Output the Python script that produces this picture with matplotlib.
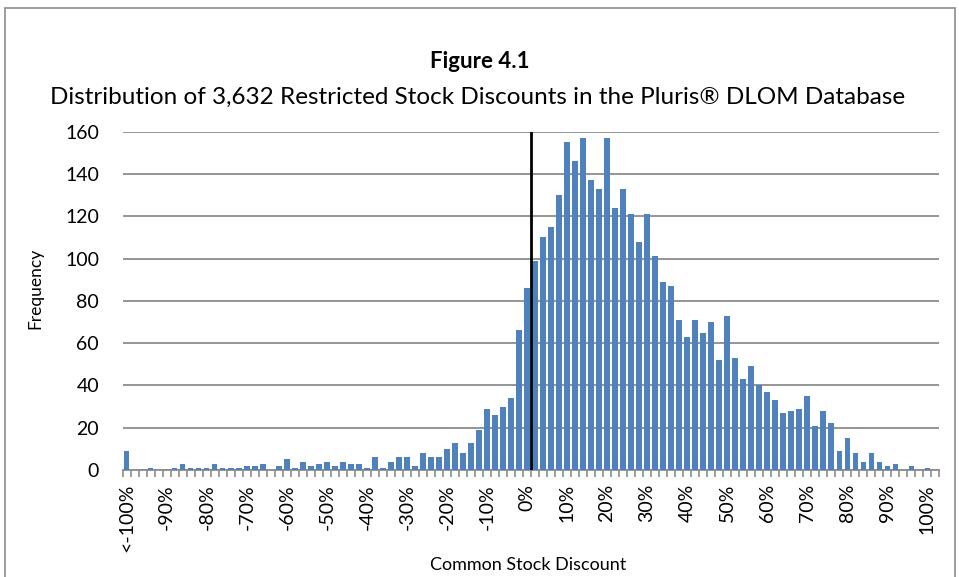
import matplotlib
matplotlib.use("Agg")
import matplotlib.pyplot as plt
from matplotlib.patches import Rectangle

plt.rcParams['font.family'] = ['Lato', 'DejaVu Sans']

# discount bins: "<-100%", -98% ... 100%, then an empty last bin
bin_pcts = list(range(-100, 102, 2)) + [102]
tick_labels = ["<-100%" if p == -100 else f"{p}%" for p in bin_pcts]

counts = [
    9, 0, 0, 1, 0, 0, 1, 3, 1, 1,
    1, 3, 1, 1, 1, 2, 2, 3, 0, 2,
    5, 1, 4, 2, 3, 4, 2, 4, 3, 3,
    1, 6, 1, 4, 6, 6, 2, 8, 6, 6,
    10, 13, 8, 13, 19, 29, 26, 30, 34, 66,
    86, 99, 110, 115, 130, 155, 146, 157, 137, 133,
    157, 124, 133, 121, 108, 121, 101, 89, 87, 71,
    63, 71, 65, 70, 52, 73, 53, 43, 49, 40,
    37, 33, 27, 28, 29, 35, 21, 28, 22, 9,
    15, 8, 4, 8, 4, 2, 3, 0, 2, 0,
    1, 0,
]
zero_line_pos = 50.5   # boundary right of the 0% bin

fig = plt.figure(figsize=(9.59, 5.77), dpi=100)
ax = fig.add_axes([122.7 / 959, 1 - 470 / 577, (939.3 - 122.7) / 959, (470 - 131.7) / 577])

x = list(range(len(counts)))
ax.bar(x, counts, width=0.68, color="#4F81BD", zorder=3)
ax.plot([zero_line_pos, zero_line_pos], [0, 160], color="black", lw=2, zorder=4)

ax.set_xlim(-0.5, len(counts) - 0.5)
ax.set_ylim(0, 160)
ax.set_yticks(range(0, 161, 20))
ax.yaxis.grid(True, color="#8C8C8C", lw=1.3, zorder=0)
ax.tick_params(axis="y", length=0, pad=17, labelsize=14)

major = list(range(0, 101, 5))
ax.set_xticks(major)
ax.set_xticklabels([tick_labels[i] for i in major], rotation=90, va="top", ha="center")
ax.set_xticks([i - 0.5 for i in range(len(counts) + 1)], minor=True)
ax.tick_params(axis="x", which="major", length=0, pad=10, labelsize=14)
ax.tick_params(axis="x", which="minor", length=5, width=1.2, color="#8C8C8C", direction="out")

for s in ["top", "right", "left"]:
    ax.spines[s].set_visible(False)
ax.spines["bottom"].set_color("#8C8C8C")
ax.spines["bottom"].set_linewidth(1.3)

fig.text(479.5 / 959, 1 - 62 / 577, "Figure 4.1", ha="center", va="center",
         fontsize=16, fontweight="bold")
fig.text(477.5 / 959, 1 - 97 / 577,
         "Distribution of 3,632 Restricted Stock Discounts in the Pluris\u00ae DLOM Database",
         ha="center", va="center", fontsize=17.5)
fig.text(35 / 959, 1 - 288 / 577, "Frequency", rotation=90, ha="center", va="center", fontsize=12.5)
fig.text(528 / 959, 1 - 565 / 577, "Common Stock Discount", ha="center", va="center", fontsize=13)

fig.patches.append(Rectangle((5 / 959, -0.01), 950 / 959, 1 - 8 / 577 + 0.01,
                             transform=fig.transFigure, fill=False,
                             edgecolor="#8C8C8C", lw=1.2))

fig.savefig("out.png", dpi=100)
